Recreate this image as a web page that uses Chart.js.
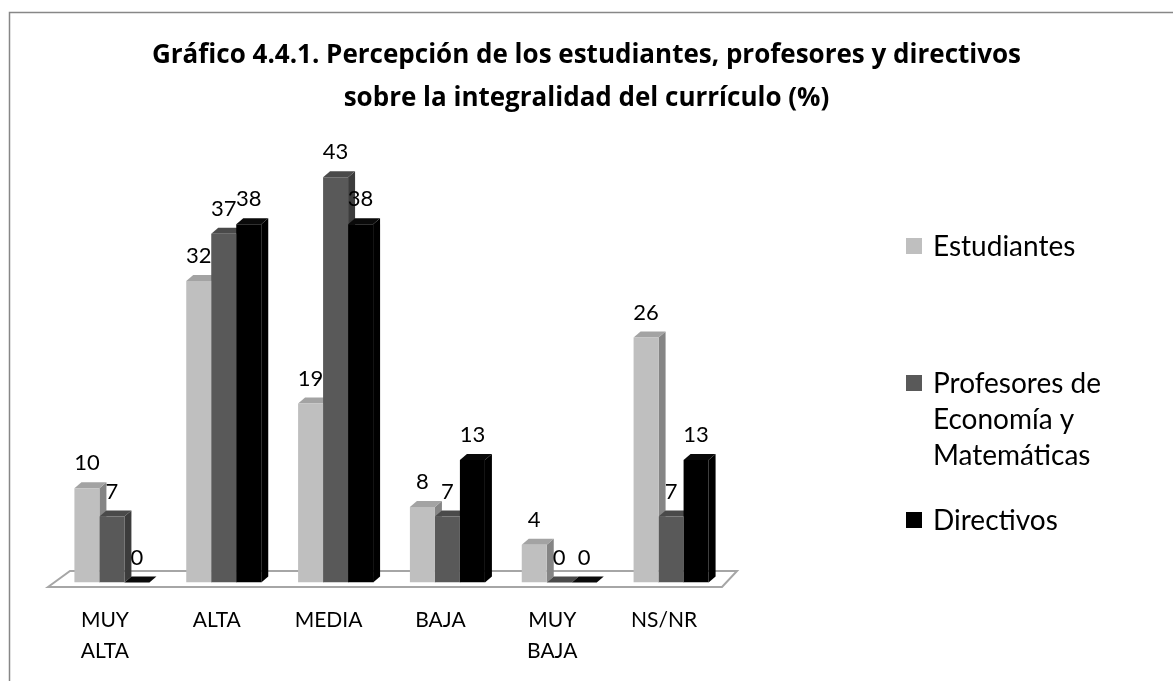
<!DOCTYPE html>
<html>
<head>
<meta charset="utf-8">
<script src="https://cdn.jsdelivr.net/npm/chart.js@4.4.1/dist/chart.umd.min.js"></script>
<style>
  body { margin: 0; background: #fff; }
  #wrap { width: 1173px; height: 681px; position: relative; }
</style>
</head>
<body>
<div id="wrap"><canvas id="chart"></canvas></div>
<script>
// data
const categories = [["MUY", "ALTA"], "ALTA", "MEDIA", "BAJA", ["MUY", "BAJA"], "NS/NR"];
const seriesNames = ["Estudiantes", "Profesores de Economía y Matemáticas", "Directivos"];
const estudiantes = [10, 32, 19, 8, 4, 26];
const profesores = [7, 37, 43, 7, 0, 7];
const directivos = [0, 38, 38, 13, 0, 13];
const titleLines = [
  "Gráfico 4.4.1. Percepción de los estudiantes, profesores y directivos",
  "sobre la integralidad del currículo (%)"
];

const frontColors = ["#bfbfbf", "#595959", "#000000"];
const sideColors = ["#858585", "#3c3c3c", "#000000"];
const topColors = ["#a3a3a3", "#4a4a4a", "#0a0a0a"];
const DX = 7, DY = 6;
const FONT = "Lato, 'Open Sans', sans-serif";

// 3d faces, floor, border, labels and legend
const excel3d = {
  id: "excel3d",
  beforeDraw(chart) {
    const ctx = chart.ctx;
    ctx.save();
    ctx.fillStyle = "#fff";
    ctx.fillRect(0, 0, chart.width, chart.height);
    ctx.strokeStyle = "#878787";
    ctx.lineWidth = 1.5;
    ctx.beginPath();
    ctx.moveTo(9.5, chart.height);
    ctx.lineTo(9.5, 12.5);
    ctx.lineTo(chart.width, 12.5);
    ctx.stroke();
    ctx.restore();
  },
  beforeDatasetsDraw(chart) {
    const {ctx, chartArea: a} = chart;
    ctx.save();
    // floor
    ctx.fillStyle = "#fff";
    ctx.strokeStyle = "#a6a6a6";
    ctx.lineWidth = 2;
    ctx.beginPath();
    ctx.moveTo(a.left - 8, a.bottom + 4.5);
    ctx.lineTo(a.left + 14, a.bottom - 11.5);
    ctx.lineTo(a.right + 10, a.bottom - 11.5);
    ctx.lineTo(a.right - 5, a.bottom + 4.5);
    ctx.closePath();
    ctx.fill();
    ctx.stroke();
    // side and top faces, left to right; fronts are drawn over them
    chart.data.datasets.forEach((ds, i) => {
      chart.getDatasetMeta(i).data.forEach(el => {
        const l = el.x - el.width / 2, r = el.x + el.width / 2;
        ctx.fillStyle = sideColors[i];
        ctx.beginPath();
        ctx.moveTo(r, el.y);
        ctx.lineTo(r + DX, el.y - DY);
        ctx.lineTo(r + DX, el.base - DY);
        ctx.lineTo(r, el.base);
        ctx.closePath();
        ctx.fill();
        ctx.fillStyle = topColors[i];
        ctx.beginPath();
        ctx.moveTo(l, el.y);
        ctx.lineTo(l + DX, el.y - DY);
        ctx.lineTo(r + DX, el.y - DY);
        ctx.lineTo(r, el.y);
        ctx.closePath();
        ctx.fill();
      });
    });
    ctx.restore();
  },
  afterDatasetsDraw(chart) {
    const ctx = chart.ctx;
    ctx.save();
    ctx.font = "22px " + FONT;
    ctx.fillStyle = "#000";
    ctx.textAlign = "center";
    ctx.textBaseline = "middle";
    chart.data.datasets.forEach((ds, i) => {
      chart.getDatasetMeta(i).data.forEach((el, j) => {
        ctx.fillText(String(ds.data[j]), el.x, el.y - 25);
      });
    });
    ctx.restore();
  },
  afterDraw(chart) {
    const ctx = chart.ctx;
    ctx.save();
    ctx.font = "28px " + FONT;
    ctx.fillStyle = "#000";
    ctx.textBaseline = "alphabetic";
    chart.data.datasets.forEach((ds, i) => {
      const words = ds.label.split(" ");
      const lines = [];
      let cur = "";
      words.forEach(w => {
        const t = cur ? cur + " " + w : w;
        if (cur && ctx.measureText(t).width > 190) { lines.push(cur); cur = w; } else cur = t;
      });
      lines.push(cur);
      const y0 = 256 + 137 * i;
      ctx.fillStyle = ds.backgroundColor;
      ctx.fillRect(906, y0 - 18, 16, 16);
      ctx.fillStyle = "#000";
      lines.forEach((ln, k) => ctx.fillText(ln, 933, y0 + 36 * k));
    });
    ctx.restore();
  }
};

const seriesData = [estudiantes, profesores, directivos];
const hiddenAxis = (pos, w) => ({
  position: pos,
  display: true,
  grid: {display: false, drawTicks: false},
  border: {display: false},
  ticks: {display: false},
  afterFit(scale) { scale.width = w; }
});

new Chart(document.getElementById("chart"), {
  type: "bar",
  data: {
    labels: categories,
    datasets: seriesData.map((d, i) => ({
      label: seriesNames[i],
      data: d,
      backgroundColor: frontColors[i],
      borderWidth: 0,
      categoryPercentage: 0.6707,
      barPercentage: 1
    }))
  },
  options: {
    responsive: true,
    maintainAspectRatio: false,
    animation: false,
    layout: {padding: 0},
    scales: {
      x: {
        grid: {display: false, drawTicks: false},
        border: {display: false},
        ticks: {
          color: "#000",
          font: {family: FONT, size: 21, lineHeight: 1.45},
          padding: 23,
          labelOffset: -7,
          maxRotation: 0,
          autoSkip: false
        },
        afterFit(scale) { scale.height = 98.5; }
      },
      y: Object.assign(hiddenAxis("left", 56), {min: 0, max: 48}),
      yRight: hiddenAxis("right", 446)
    },
    plugins: {
      legend: {display: false},
      tooltip: {enabled: false},
      title: {
        display: true,
        text: titleLines,
        color: "#000",
        font: {family: "'Open Sans', sans-serif", size: 26, weight: "bold", lineHeight: 1.65},
        padding: {top: 34, bottom: 10.3}
      }
    }
  },
  plugins: [excel3d]
});
</script>
</body>
</html>
